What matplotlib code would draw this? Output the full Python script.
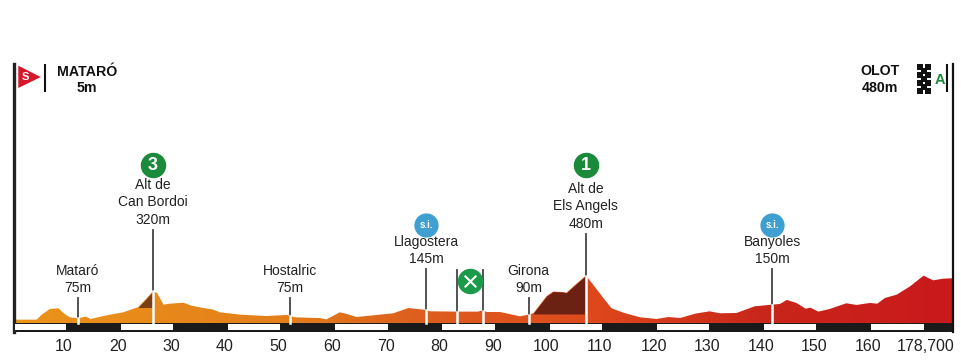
import numpy as np
import matplotlib
matplotlib.use("Agg")
import matplotlib.pyplot as plt
from matplotlib.colors import LinearSegmentedColormap
from matplotlib.patches import Polygon
from matplotlib.transforms import ScaledTranslation

# elevation profile, km / metres
km = [0.3, 4.5, 5.5, 7.0, 8.6, 9.5, 10.7, 12.3, 13.7, 14.6, 17.6, 20.7, 23.5, 25.1, 26.2,
      27.0, 28.2, 29.4, 31.9, 33.4, 35.6, 37.5, 38.7, 42.5, 47.4, 51.2, 52.7,
      57.4, 58.6, 61.1, 62.4, 64.2, 71.1, 73.9, 77.2, 77.9, 82.9, 86.9, 87.7, 88.5, 91.0,
      94.7, 96.3, 97.2, 99.7, 100.9, 102.5, 103.4, 105.0, 107.0, 108.4, 110.3, 111.8, 114.0,
      117.1, 120.2, 122.4, 124.6, 127.4, 130.1, 132.0, 135.1, 138.5, 141.7, 143.2, 144.5,
      146.3, 148.0, 148.9, 150.4, 152.5, 155.6, 157.5, 160.0, 161.4, 162.8, 165.0, 167.5,
      170.0, 171.8, 173.7, 175.5]
elev = [34, 34, 85, 143, 150, 102, 58, 48, 65, 41, 78, 109, 163, 255, 323,
        306, 187, 197, 207, 177, 153, 136, 109, 85, 71, 82, 58,
        50, 37, 109, 92, 61, 99, 153, 133, 119, 116, 116, 129, 112, 112,
        68, 85, 99, 275, 320, 316, 309, 388, 483, 388, 252, 150, 105,
        58, 41, 61, 51, 95, 119, 99, 102, 170, 187, 194, 235,
        204, 146, 156, 116, 143, 201, 184, 204, 197, 255, 289, 374,
        483, 435, 452, 456]

# places along the route
names = ["Mataró\n75m", "Alt de\nCan Bordoi\n320m", "Hostalric\n75m", "Llagostera\n145m",
         "Girona\n90m", "Alt de\nEls Angels\n480m", "Banyoles\n150m"]
name_km = [12.2, 26.2, 51.8, 77.2, 96.3, 107.0, 141.8]
name_top = [255, 950, 255, 550, 255, 910, 550]
food_km = [82.9, 87.9]
food_top = 540

tick_km = [10, 20, 30, 40, 50, 60, 70, 80, 90, 100, 110, 120, 130, 140, 150, 160, 170.7]
tick_labels = ["10", "20", "30", "40", "50", "60", "70", "80", "90", "100", "110", "120",
               "130", "140", "150", "160", "178,700"]

# the two categorised climbs, darker part above the road
climb1_km = [23.5, 25.1, 26.2]
climb1_top = [163, 255, 323]
climb1_base = 158
climb2_km = [97.2, 99.7, 100.9, 102.5, 103.4, 105.0, 107.0]
climb2_top = [99, 275, 320, 316, 309, 388, 483]
climb2_base = 92

# colour along the road
grad_km = [0, 50, 75, 107, 140, 175.5]
grad_col = ["#EC9419", "#E47F1B", "#DD5F1E", "#DF4A1C", "#C9261A", "#C9191C"]

plt.rcParams["font.family"] = ["Liberation Sans", "DejaVu Sans"]

W, H = 962, 361
fig = plt.figure(figsize=(W / 100, H / 100), dpi=100)
ax = fig.add_axes([14 / W, 1 - 332 / H, (953 - 14) / W, (332 - 64) / H])
ax.patch.set_alpha(0)

# profile with a left to right colour change, clipped on the outline
pos = [(k - grad_km[0]) / (grad_km[-1] - grad_km[0]) for k in grad_km]
cmap = LinearSegmentedColormap.from_list("road", list(zip(pos, grad_col)))
img = ax.imshow(np.linspace(0, 1, 512).reshape(1, -1), cmap=cmap, aspect="auto",
                extent=[grad_km[0], grad_km[-1], 0, 600], zorder=2)
outline = Polygon(list(zip(km, elev)) + [(km[-1], 0), (km[0], 0)], closed=True,
                  transform=ax.transData, fc="none", ec="none")
ax.add_patch(outline)
img.set_clip_path(outline)
ax.set_xlim(0.3, 175.5)
ax.set_ylim(-92, 2642)

ax.fill_between(climb1_km, climb1_base, climb1_top, color="#7A3E12", lw=0, zorder=3)
ax.fill_between(climb2_km, climb2_base, climb2_top, color="#6B2213", lw=0, zorder=3)

# km band below the road
ax.fill_between([0.3, 175.5], -88, 0, color="#1A1A1A", lw=0, zorder=2)
for i in range(0, 18, 2):
    left = max(i * 10, 0.3) + 0.25
    right = (i + 1) * 10
    ax.fill_between([left, right], -68, -12, color="white", lw=0, zorder=3)

# marker lines: grey stem above the road, white stripe through it
for k, t, txt in zip(name_km, name_top, names):
    road = np.interp(k, km, elev)
    ax.plot([k, k], [road, t], color="#444444", lw=1.3, zorder=4)
    ax.plot([k, k], [0, road], color="white", lw=1.8, zorder=4)
    ax.text(k, t + 32, txt, ha="center", va="bottom", fontsize=10, linespacing=1.3,
            color="#222222", zorder=5)
for k in food_km:
    road = np.interp(k, km, elev)
    ax.plot([k, k], [road, food_top], color="#444444", lw=1.3, zorder=4)
    ax.plot([k, k], [0, road], color="white", lw=1.8, zorder=4)

# badges
ax.scatter([26.2, 107.0], [1612, 1612], s=300, c="#1B8A3A", zorder=5)
ax.text(26.2, 1605, "3", ha="center", va="center", fontsize=13, fontweight="bold", color="white", zorder=6)
ax.text(107.0, 1605, "1", ha="center", va="center", fontsize=13, fontweight="bold", color="white", zorder=6)
ax.scatter([77.2, 141.8], [1000, 1000], s=270, c="#3E9FD0", zorder=5)
ax.text(77.2, 1000, "s.i.", ha="center", va="center", fontsize=7, fontweight="bold", color="white", zorder=6)
ax.text(141.8, 1000, "s.i.", ha="center", va="center", fontsize=7, fontweight="bold", color="white", zorder=6)
ax.scatter([85.4], [428], s=300, c="#1B9A4A", zorder=5)
ax.scatter([85.4], [428], s=70, c="white", marker="x", linewidths=1.5, zorder=6)

# start block
ax.add_patch(Polygon([(1.1, 2625), (5.3, 2509), (1.1, 2397)], closed=True, fc="#D5182B", ec="none", zorder=5))
ax.text(2.5, 2507, "S", ha="center", va="center", fontsize=8, fontweight="bold", color="white", zorder=6)
ax.plot([6.1, 6.1], [2642, 2366], color="#111111", lw=1.5, zorder=5)
ax.text(13.9, 2560, "MATARÓ", ha="center", va="center", fontsize=10.2, fontweight="bold", color="#111111")
ax.text(13.9, 2397, "5m", ha="center", va="center", fontsize=10.2, fontweight="bold", color="#111111")

# finish block
ax.text(161.9, 2570, "OLOT", ha="center", va="center", fontsize=10.2, fontweight="bold", color="#111111")
ax.text(161.9, 2397, "480m", ha="center", va="center", fontsize=10.2, fontweight="bold", color="#111111")
check_col = [169.3, 170.0, 170.8]
check_row = [2611, 2570, 2530, 2489, 2448, 2407, 2366]
for r, y in enumerate(check_row):
    for c, x in enumerate(check_col):
        if (r + c) % 2 == 0:
            ax.scatter([x], [y], s=13, marker="s", c="#111111", lw=0, zorder=5)
ax.text(173.0, 2478, "A", ha="center", va="center", fontsize=10.5, fontweight="bold", color="#1B8A3A", zorder=5)
ax.plot([174.4, 174.4], [2642, 2366], color="#111111", lw=1.5, zorder=5)

# axes frame and km labels
for s in ["top", "bottom"]:
    ax.spines[s].set_visible(False)
ax.spines["left"].set_linewidth(2.4)
ax.spines["left"].set_color("#222222")
ax.spines["right"].set_linewidth(1.6)
ax.spines["right"].set_color("#111111")
ax.set_yticks([])
ax.set_xticks(tick_km)
ax.set_xticklabels(tick_labels, fontsize=11.5, color="#222222")
ax.tick_params(axis="x", length=0, pad=5)
off = ScaledTranslation(-2 / 100, 0, fig.dpi_scale_trans)
for lab in ax.get_xticklabels():
    lab.set_transform(lab.get_transform() + off)

fig.savefig("out.png", dpi=100)
